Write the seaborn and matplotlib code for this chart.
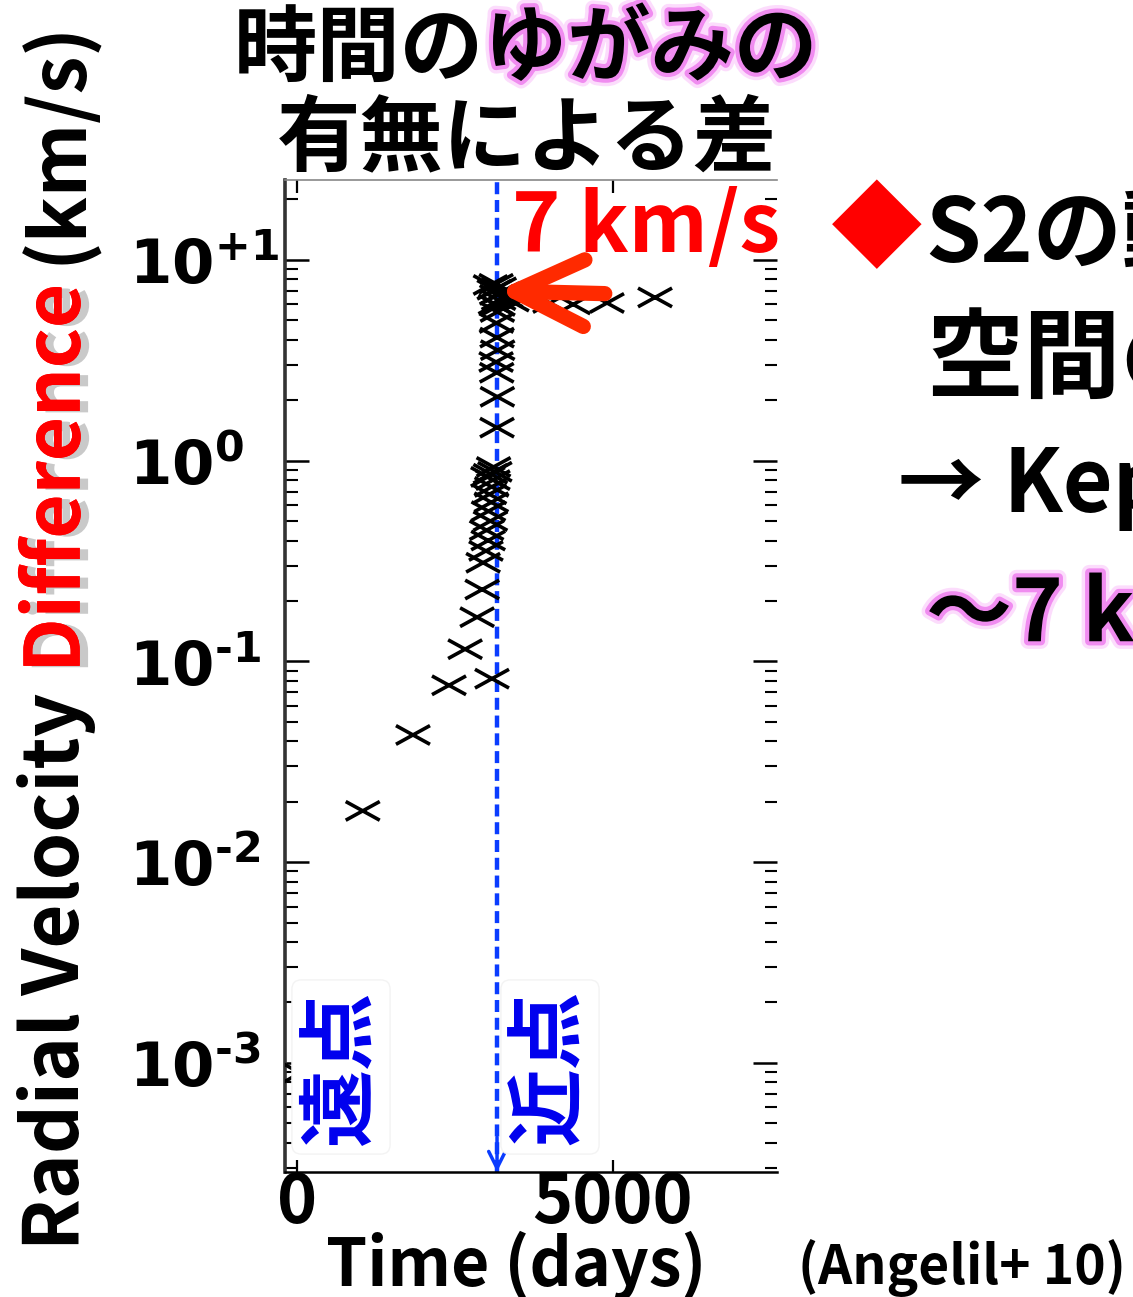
import numpy as np
import matplotlib
matplotlib.use("Agg")
import matplotlib.pyplot as plt
import seaborn as sns
from matplotlib import patheffects as pe
from matplotlib.path import Path
from matplotlib.markers import MarkerStyle
from matplotlib.ticker import LogLocator, NullFormatter, NullLocator

# S2: radial-velocity difference between orbits with and without time dilation
days = [50, 1040, 1835, 2405, 2660, 2850, 3085, 2930, 2945, 2990, 3025, 3000,
        3060, 3030, 3075, 3045, 3080, 3100, 3060, 3130, 3020, 3110,
        3165, 3170, 3160, 3150, 3175, 3165, 3155, 3170, 3140, 3190, 3160,
        3120, 3200, 3150, 3180, 3060, 3250, 3300, 3400,
        3560, 4003, 4370, 4905, 5665]
dv_kms = [0.00089, 0.018, 0.043, 0.076, 0.115, 0.166, 0.082, 0.228, 0.31, 0.355,
          0.40, 0.45, 0.50, 0.56, 0.62, 0.68, 0.74, 0.80, 0.86, 0.88, 0.83, 0.93,
          1.46, 2.08, 2.74, 3.10, 3.55, 4.10, 4.85, 5.5, 6.0, 6.3, 6.7,
          7.1, 7.3, 7.6, 5.9, 7.5, 6.9, 6.5, 6.2,
          6.3, 6.1, 6.0, 6.1, 6.5]

periapse_day = 3165
peak_dv = 7

xtick_vals = [0, 5000]
xtick_labels = ["0", "5000"]
ytick_vals = [1e-3, 1e-2, 1e-1, 1e0, 1e1]
ytick_labels = ["$\\mathbf{10^{\u20103}}$", "$\\mathbf{10^{\u20102}}$",
                "$\\mathbf{10^{\u20101}}$", "$\\mathbf{10^{0}}$", "$\\mathbf{10^{+1}}$"]

title_plain = "時間の"
title_glow = "ゆがみの"
title_line2 = "有無による差"
ylabel_parts = ["Radial Velocity", "Difference", "(km/s)"]
xlabel_text = "Time (days)"
far_label = "遠点"
near_label = "近点"
side_lines = ["S2の動径速度の", "空間のゆがみの効果", "→ Kepler運動からのずれ", "～7 km/s"]
citation = "(Angelil+ 10)"

sns.set_style("ticks")
JP = "Noto Sans CJK JP"
plt.rcParams["font.family"] = [JP, "DejaVu Sans"]
plt.rcParams["mathtext.fontset"] = "dejavusans"
for key in ("text.color", "axes.labelcolor", "xtick.color", "ytick.color"):
    plt.rcParams[key] = "black"

W, H = 1133, 1297
fig = plt.figure(figsize=(W / 100, H / 100), dpi=100, facecolor="white")
renderer = fig.canvas.get_renderer()


def fx(px):
    return px / W


def fy(py):
    return 1 - py / H


def fit(t, target_px, vertical=False):
    bb = t.get_window_extent(renderer)
    size = bb.height if vertical else bb.width
    t.set_fontsize(t.get_fontsize() * target_px / size)


ax = fig.add_axes([fx(285), fy(1172), fx(777) - fx(285), fy(180) - fy(1172)])
ax.set_facecolor("white")
ax.set_yscale("log")

# slanted "x" marker, wider than tall
xpath = Path([(-1, -0.55), (1, 0.55), (-1, 0.55), (1, -0.55)],
             [Path.MOVETO, Path.LINETO, Path.MOVETO, Path.LINETO])
xmark = MarkerStyle(xpath, fillstyle="none")

sns.scatterplot(x=days, y=dv_kms, marker=xmark, s=600, color="black",
                linewidth=2.6, ax=ax, legend=False, zorder=3)

ax.set_xlim(-190, 7595)
ax.set_ylim(2.86e-4, 25.0)

# periapse: dashed vertical line ending in an arrowhead
blue = "#0a3cff"
ax.axvline(periapse_day, color=blue, lw=3.2, ls=(0, (2.7, 1.3)), zorder=2)
ax.annotate("", xy=(periapse_day, 0.0), xytext=(periapse_day, 0.035),
            xycoords=("data", "axes fraction"), textcoords=("data", "axes fraction"),
            arrowprops=dict(arrowstyle="->,head_length=12,head_width=6", color=blue,
                            lw=2.5, shrinkA=0, shrinkB=0, mutation_scale=1),
            zorder=4)

# red arrow pointing at the peak difference
ax.annotate("", xy=(periapse_day, peak_dv), xytext=(4870, peak_dv * 0.97),
            arrowprops=dict(arrowstyle="->,head_length=50,head_width=24",
                            color="#ff2a00", lw=11, shrinkA=0, shrinkB=0,
                            mutation_scale=1, capstyle="round", joinstyle="round"),
            zorder=5)
t = fig.text(fx(512), fy(228), f"{peak_dv} km/s", color="#ff0000", fontsize=60,
             fontweight="bold", ha="left", va="center")
fit(t, 268)

# ticks
ax.set_yticks(ytick_vals, ytick_labels)
ax.yaxis.set_minor_locator(LogLocator(base=10, subs=np.arange(2, 10)))
ax.yaxis.set_minor_formatter(NullFormatter())
ax.tick_params(axis="y", which="major", direction="in", length=17, width=1.8,
               left=True, right=True, labelsize=44, pad=112)
ax.tick_params(axis="y", which="minor", direction="in", length=9, width=1.5,
               left=True, right=True)
for lbl in ax.get_yticklabels():
    lbl.set_horizontalalignment("left")
ax.set_xticks(xtick_vals, xtick_labels)
ax.xaxis.set_minor_locator(NullLocator())
ax.tick_params(axis="x", which="major", direction="in", length=9, width=1.6,
               top=True, bottom=True, labelsize=49, pad=-2)
for lbl in ax.get_xticklabels():
    lbl.set_fontweight("bold")

ax.spines["right"].set_visible(False)
ax.spines["left"].set_linewidth(2.6)
ax.spines["left"].set_color("#333333")
ax.spines["bottom"].set_linewidth(1.8)
ax.spines["bottom"].set_color("black")
ax.spines["top"].set_linewidth(1.2)
ax.spines["top"].set_color("#888888")

# apoapse / periapse labels
box = dict(boxstyle="round,pad=0.12", fc="white", ec="#f3f3f3", lw=1)
fig.text(fx(341), fy(1067), far_label, rotation=90, color="#0000ee", fontsize=56,
         fontweight="bold", ha="center", va="center", bbox=box)
fig.text(fx(550), fy(1067), near_label, rotation=90, color="#0000ee", fontsize=56,
         fontweight="bold", ha="center", va="center", bbox=box)

# title with glowing part
glow = [pe.Stroke(linewidth=11, foreground="#fcdcfc"),
        pe.Stroke(linewidth=6, foreground="#f08cf0"), pe.Normal()]
fig.text(fx(484), fy(50), title_plain, fontsize=60, fontweight="bold",
         ha="right", va="center")
fig.text(fx(484), fy(50), title_glow, fontsize=60, fontweight="bold",
         ha="left", va="center", path_effects=glow)
fig.text(fx(527), fy(140), title_line2, fontsize=60, fontweight="bold",
         ha="center", va="center")

# axis labels
t = fig.text(fx(516), fy(1266), xlabel_text, fontsize=54, fontweight="bold",
             ha="center", va="center")
fit(t, 380)

colors = ["black", "#ff0000", "black"]
effects = [None, [pe.withSimplePatchShadow(offset=(6, -1), shadow_rgbFace="#888888",
                                           alpha=0.45), pe.Normal()], None]
parts = []
for part, col, eff in zip(ylabel_parts, colors, effects):
    parts.append(fig.text(fx(57), 0.5, part, rotation=90, fontsize=60,
                          fontweight="bold", color=col, ha="center", va="bottom",
                          path_effects=eff))
gap = 20
total = sum(p.get_window_extent(renderer).height for p in parts)
scale = (1230 - 2 * gap) / total
ycur = fy(1250)
for p in parts:
    p.set_fontsize(p.get_fontsize() * scale)
    p.set_y(ycur)
    ycur = (p.get_window_extent(renderer).y1 + gap) / H

# side notes (run off the right edge)
fig.text(fx(877), fy(233), "◆", color="#ff0000", fontsize=66, ha="center",
         va="center")
fig.text(fx(925), fy(236), side_lines[0], fontsize=64, fontweight="bold",
         ha="left", va="center")
fig.text(fx(926), fy(362), side_lines[1], fontsize=70, fontweight="bold",
         ha="left", va="center")
fig.text(fx(898), fy(485), side_lines[2], fontsize=62, fontweight="bold",
         ha="left", va="center")
fig.text(fx(926), fy(616), side_lines[3], fontsize=62, fontweight="bold",
         ha="left", va="center", path_effects=glow)

t = fig.text(fx(798), fy(1268), citation, fontsize=46, fontweight="bold",
             ha="left", va="center")
fit(t, 327)

fig.savefig("out.png", dpi=100, facecolor="white")
